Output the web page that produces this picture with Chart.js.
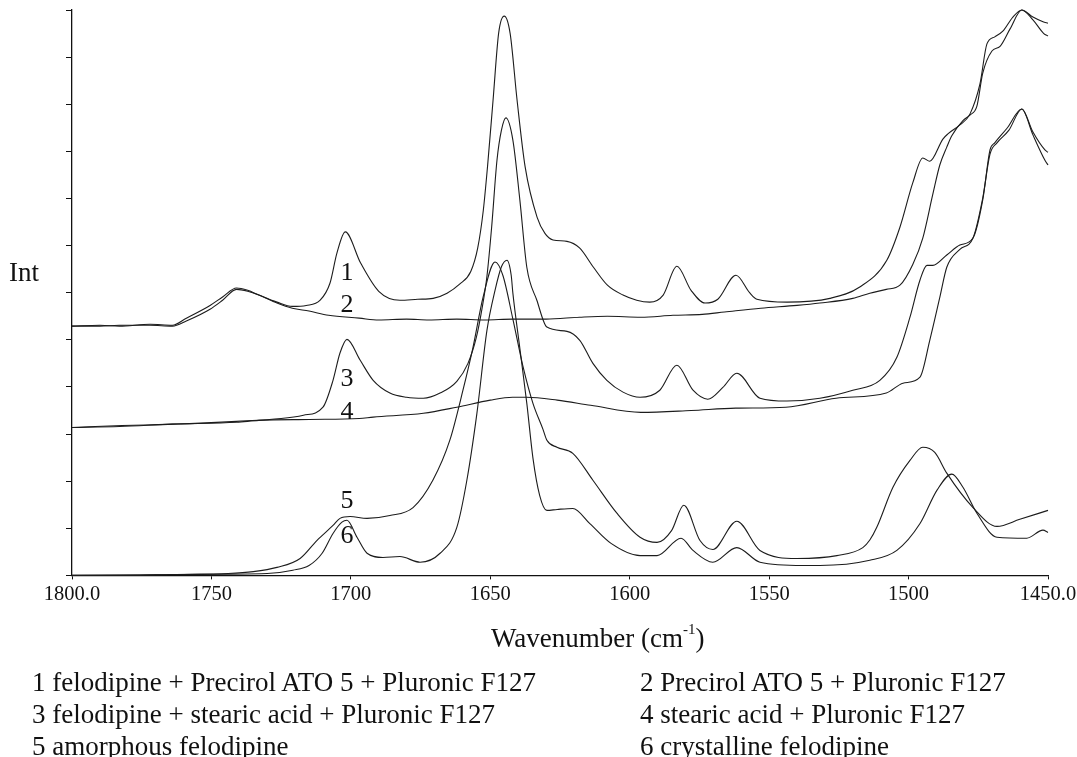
<!DOCTYPE html>
<html>
<head>
<meta charset="utf-8">
<script src="https://cdn.jsdelivr.net/npm/chart.js@4.4.1/dist/chart.umd.min.js"></script>
<style>
    body { margin: 0; background: #fff; }
    #wrap { position: relative; width: 1077px; height: 757px; overflow: hidden; }
    #chart { position: absolute; left: 0; top: 0; }
    .txt {
        position: absolute;
        font-family: 'Liberation Serif', 'Times New Roman', serif;
        font-size: 27px;
        line-height: 32px;
        color: #111;
        white-space: nowrap;
    }
    .txt sup { font-size: 15px; position: relative; top: -3px; }
</style>
</head>
<body>
<div id="wrap">
    <canvas id="chart" width="1077" height="757"></canvas>
    <div class="txt" style="left:9px; top:256px;">Int</div>
    <div class="txt" style="left:491px; top:616px;">Wavenumber (cm<sup>-1</sup>)</div>
    <div class="txt" style="left:32px; top:666px;">1 felodipine + Precirol ATO 5 + Pluronic F127</div>
    <div class="txt" style="left:640px; top:666px;">2 Precirol ATO 5 + Pluronic F127</div>
    <div class="txt" style="left:32px; top:698px;">3 felodipine + stearic acid + Pluronic F127</div>
    <div class="txt" style="left:640px; top:698px;">4 stearic acid + Pluronic F127</div>
    <div class="txt" style="left:32px; top:730px;">5 amorphous felodipine</div>
    <div class="txt" style="left:640px; top:730px;">6 crystalline felodipine</div>
</div>
<script>
// Raman spectra, [wavenumber cm-1, intensity (offset, arbitrary units)]
const felPrecirolPluronic = [
    [1800, 5.29], [1790, 5.31], [1783, 5.29], [1772, 5.33], [1764, 5.31], [1759, 5.46],
    [1750.5, 5.73], [1746, 5.91], [1741, 6.10], [1737, 6.05], [1733, 5.95], [1726.5, 5.80],
    [1721, 5.71], [1716, 5.73], [1711, 5.84], [1707.5, 6.20], [1705, 6.84], [1702, 7.29],
    [1696.5, 6.63], [1690, 6.03], [1682.4, 5.84], [1676, 5.86], [1670.5, 5.88], [1665.5, 5.99],
    [1661, 6.18], [1657, 6.45], [1654.5, 6.95], [1652.5, 7.75], [1651, 8.67], [1649, 10.09],
    [1647, 11.51], [1645, 11.87], [1642.9, 11.51], [1640.4, 10.09], [1637.5, 8.67], [1633.2, 7.60],
    [1630.4, 7.26], [1627.5, 7.12], [1622.5, 7.09], [1618, 6.95], [1613, 6.54], [1608, 6.16],
    [1602.4, 5.95], [1597.5, 5.84], [1592.8, 5.80], [1588, 5.95], [1583.1, 6.56], [1578, 6.05],
    [1573, 5.78], [1568.4, 5.86], [1561.9, 6.37], [1557, 6.00], [1554.4, 5.86], [1543.6, 5.80],
    [1528.2, 5.88], [1517.5, 6.12], [1507.8, 6.69], [1503.1, 7.39], [1498.5, 8.33], [1494.9, 8.86],
    [1492.4, 8.79], [1487.7, 9.26], [1485.9, 9.37], [1481.6, 9.56], [1478, 9.79], [1474.4, 10.43],
    [1471.9, 11.28], [1469.1, 11.43], [1466.2, 11.55], [1462.6, 11.85], [1459.4, 12.0],
    [1455.4, 11.85], [1451.8, 11.75], [1450, 11.72]
];
const precirolPluronic = [
    [1800, 5.29], [1790, 5.29], [1783, 5.31], [1772, 5.31], [1764, 5.29], [1759, 5.40],
    [1750.5, 5.65], [1746, 5.84], [1741, 6.07], [1737, 6.03], [1733, 5.95], [1726.5, 5.78],
    [1721, 5.67], [1715, 5.61], [1708, 5.52], [1697, 5.46], [1690, 5.42], [1680, 5.44],
    [1672, 5.42], [1662, 5.44], [1652, 5.42], [1642, 5.44], [1630, 5.44], [1618, 5.48],
    [1608, 5.50], [1596, 5.48], [1584.5, 5.52], [1574, 5.54], [1566, 5.59], [1553, 5.67],
    [1540, 5.73], [1531.8, 5.78], [1520, 5.88], [1513.9, 5.99], [1508, 6.07], [1503.1, 6.16],
    [1498.5, 6.60], [1494.9, 7.16], [1491.3, 8.09], [1488.8, 8.71], [1486.3, 9.09], [1484.5, 9.33],
    [1480.5, 9.65], [1478, 9.77], [1475.5, 9.96], [1473.4, 10.66], [1470.1, 11.13], [1467.2, 11.23],
    [1463.6, 11.60], [1459.4, 12.0], [1455.4, 11.79], [1451.5, 11.50], [1450, 11.45]
];
const felStearicPluronic = [
    [1800, 3.14], [1782, 3.18], [1764, 3.21], [1741, 3.27], [1725, 3.33], [1717, 3.40],
    [1710, 3.57], [1706.4, 4.14], [1703.9, 4.72], [1701.4, 5.01], [1696.7, 4.57], [1692, 4.14],
    [1686, 3.87], [1680, 3.78], [1674, 3.76], [1668, 3.87], [1662, 4.12], [1658, 4.50],
    [1655, 5.05], [1653, 5.65], [1651.2, 6.35], [1649.5, 7.40], [1647.6, 8.81], [1646, 9.45],
    [1644.4, 9.71], [1641.9, 9.24], [1639.4, 7.97], [1636.9, 6.54], [1633.3, 5.84], [1629.7, 5.27],
    [1622.5, 5.18], [1617.9, 4.99], [1613.2, 4.50], [1608.2, 4.14], [1602.4, 3.89], [1596.3, 3.78],
    [1589.2, 3.93], [1583.1, 4.46], [1577.3, 3.93], [1572, 3.74], [1566.6, 3.99], [1561.6, 4.29],
    [1553.3, 3.76], [1543.6, 3.70], [1531.8, 3.76], [1520, 3.93], [1510.3, 4.14], [1504.2, 4.63],
    [1499.5, 5.48], [1495.9, 6.27], [1493.4, 6.58], [1491.3, 6.58], [1486.3, 6.80], [1481.6, 7.01],
    [1476.9, 7.16], [1473.4, 7.97], [1470.8, 9.03], [1469.1, 9.18], [1464.7, 9.49], [1459.4, 9.90],
    [1455.4, 9.41], [1451.1, 9.03], [1450, 8.98]
];
const stearicPluronic = [
    [1800, 3.14], [1783, 3.16], [1764, 3.21], [1741, 3.25], [1733, 3.29], [1715, 3.31],
    [1697, 3.33], [1692, 3.36], [1674, 3.44], [1662, 3.57], [1650, 3.72], [1642, 3.78],
    [1637, 3.78], [1626, 3.72], [1614, 3.61], [1596, 3.46], [1578, 3.50], [1562, 3.55],
    [1544, 3.57], [1526, 3.76], [1508, 3.87], [1502, 4.08], [1495.9, 4.21], [1492.4, 4.99],
    [1488.8, 5.90], [1486.3, 6.54], [1481.6, 6.92], [1476.9, 7.16], [1473.4, 8.01], [1470.8, 8.94],
    [1468.3, 9.18], [1464, 9.45], [1459.4, 9.90], [1455.4, 9.35], [1451, 8.80], [1450, 8.71]
];
const amorphousFel = [
    [1800, 0], [1780, 0], [1764, 0.02], [1744, 0.04], [1735, 0.08], [1726.5, 0.17],
    [1718.2, 0.36], [1712.2, 0.74], [1706.4, 1.06], [1703.9, 1.21], [1700.3, 1.25], [1694.2, 1.21],
    [1686, 1.27], [1677.7, 1.44], [1670.6, 2.02], [1664.5, 2.87], [1659.8, 3.93], [1656.2, 4.84],
    [1652.6, 5.90], [1648.3, 6.65], [1645.5, 6.37], [1641.9, 5.44], [1638.3, 4.44], [1634.7, 3.65],
    [1631.1, 3.10], [1629.7, 2.87], [1626.1, 2.72], [1620.4, 2.59], [1613.2, 2.02], [1604.6, 1.32],
    [1596.3, 0.81], [1590.2, 0.70], [1585, 0.95], [1580.6, 1.49], [1574.8, 0.74], [1570.2, 0.55],
    [1561.6, 1.15], [1553.3, 0.53], [1540, 0.36], [1525.7, 0.42], [1516.4, 0.59], [1513.9, 0.75],
    [1511.4, 1.02], [1505.6, 1.87], [1499.5, 2.44], [1494.9, 2.72], [1490.6, 2.61], [1486.3, 2.17],
    [1476.9, 1.44], [1468.3, 1.04], [1460.1, 1.19], [1450, 1.38]
];
const crystallineFel = [
    [1800, 0], [1760, 0.02], [1730, 0.04], [1720.8, 0.11], [1715, 0.21], [1710.3, 0.47],
    [1706.4, 0.89], [1703.2, 1.13], [1701.4, 1.17], [1697.8, 0.81], [1694.2, 0.47], [1688.5, 0.38],
    [1682.4, 0.40], [1675.2, 0.28], [1668, 0.47], [1662, 1.02], [1658.4, 2.02], [1654.8, 3.44],
    [1651.2, 5.20], [1648.3, 6.05], [1646, 6.55], [1644, 6.69], [1642.5, 6.37], [1641.9, 5.99],
    [1639.4, 4.82], [1636.9, 3.65], [1634.7, 2.49], [1632.3, 1.70], [1629.7, 1.38], [1626, 1.40],
    [1620.4, 1.42], [1614.3, 1.10], [1606.7, 0.68], [1596.3, 0.42], [1590.2, 0.42], [1581.6, 0.79],
    [1577.3, 0.53], [1570.2, 0.28], [1561.6, 0.59], [1553.3, 0.28], [1537.9, 0.21], [1531.8, 0.21],
    [1513.9, 0.32], [1504.2, 0.53], [1495.9, 1.10], [1489.8, 1.81], [1484.5, 2.15], [1480.5, 1.87],
    [1475.5, 1.32], [1468.3, 0.81], [1457.6, 0.79], [1451.8, 0.96], [1450, 0.91]
];

const seriesNames = ['1', '2', '3', '4', '5', '6'];
const seriesData = [felPrecirolPluronic, precirolPluronic, felStearicPluronic,
                    stearicPluronic, amorphousFel, crystallineFel];
// where the curve numbers sit (wavenumber, intensity)
const labelWavenumber = 1701.4;
const labelLevels = [6.44, 5.76, 4.18, 3.48, 1.59, 0.85];

const serif = "'Liberation Serif', 'Times New Roman', serif";

const curveNumbers = {
    id: 'curveNumbers',
    afterDatasetsDraw(chart) {
        const ctx = chart.ctx;
        const xs = chart.scales.x, ys = chart.scales.y;
        ctx.save();
        ctx.font = '26px ' + serif;
        ctx.fillStyle = '#111';
        ctx.textAlign = 'center';
        ctx.textBaseline = 'middle';
        seriesNames.forEach((n, i) => {
            ctx.fillText(n, xs.getPixelForValue(labelWavenumber), ys.getPixelForValue(labelLevels[i]) + 1);
        });
        ctx.restore();
    }
};

new Chart(document.getElementById('chart'), {
    type: 'line',
    data: {
        datasets: seriesData.map((s, i) => ({
            label: seriesNames[i],
            data: s.map(p => ({ x: p[0], y: p[1] })),
            borderColor: '#1c1c1c',
            borderWidth: 1.1,
            pointRadius: 0,
            fill: false,
            cubicInterpolationMode: 'monotone',
            clip: false
        }))
    },
    options: {
        responsive: false,
        animation: false,
        devicePixelRatio: 1,
        layout: { padding: { left: 66, right: 29, top: 10, bottom: 147 } },
        plugins: { legend: { display: false }, tooltip: { enabled: false } },
        scales: {
            x: {
                type: 'linear',
                reverse: true,
                min: 1450,
                max: 1800,
                border: { display: true, color: '#111', width: 1.3 },
                grid: { drawOnChartArea: false, drawTicks: true, tickLength: 4, color: '#111' },
                ticks: {
                    stepSize: 50,
                    padding: 3,
                    maxRotation: 0,
                    color: '#111',
                    font: { family: serif, size: 20.5 },
                    callback: v => (v === 1800 || v === 1450) ? v.toFixed(1) : String(v)
                },
                // end labels overhang into the page margin, as in the figure
                afterFit: s => { s.paddingLeft = 0; s.paddingRight = 0; }
            },
            y: {
                min: 0,
                max: 12,
                border: { display: true, color: '#111', width: 1.3 },
                grid: { drawOnChartArea: false, drawTicks: true, tickLength: 6, color: '#111' },
                ticks: { stepSize: 1, display: false },
                afterFit: s => { s.width = 6; }
            }
        }
    },
    plugins: [curveNumbers]
});
</script>
</body>
</html>
